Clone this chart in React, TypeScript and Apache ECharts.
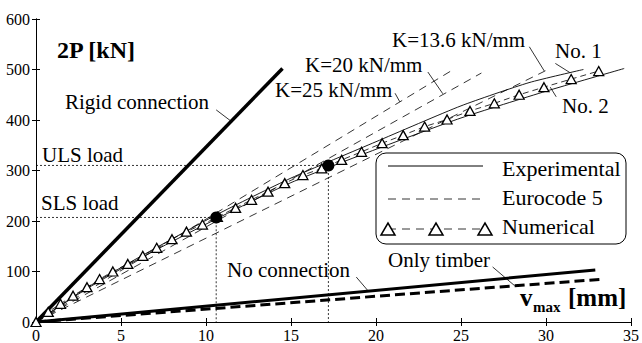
import React, { useEffect, useRef } from "react";
import * as echarts from "echarts";

// ---- data ----
const xTicks = [0, 5, 10, 15, 20, 25, 30, 35];
const yTicks = [0, 100, 200, 300, 400, 500, 600];

const rigid = [[0, 0], [14.5, 502]];
const noConnection = [[0, 0], [32.9, 103]];
const onlyTimber = [[0, 0], [33.4, 85]];

const ec5K25 = [[0, 0], [24.6, 501]];
const ec5K20 = [[0, 0], [26.2, 493]];
const ec5K136 = [[0, 0], [30.0, 498]];

const exp1 = [[0, 0], [3, 68], [6, 127], [10.6, 212], [15, 285], [20, 357], [25, 428], [29, 474], [32.2, 500]];
const exp2 = [[0, 0], [3, 66], [6, 124], [10.6, 204], [15, 276], [20, 342], [25, 404], [30, 457], [34.6, 502]];

const numX = [0, 0.72, 1.44, 2.18, 3.0, 3.74, 4.52, 5.4, 6.28, 7.1, 8.0, 8.85, 9.79, 10.67, 11.74, 12.68, 13.65, 14.63, 15.7, 16.81, 17.98, 19.15, 20.36, 21.6, 22.86, 24.18, 25.53, 26.96, 28.42, 29.88, 31.48, 33.1];
const numY = [0, 20, 36, 52, 69, 85, 100, 115, 131, 147, 164, 179, 193, 208, 226, 242, 258, 275, 291, 304, 321, 337, 354, 370, 387, 401, 418, 433, 450, 465, 481, 497];

const slsLoad = 207;
const slsV = 10.6;
const ulsLoad = 310;
const ulsV = 17.2;

const leaders = {
  rigid: [[10.6, 420], [11.5, 397]],
  k25: [[21.12, 453], [21.4, 436]],
  k20: [[23.05, 495], [23.93, 452]],
  k136: [[29.02, 545], [29.9, 497]],
  no1: [[30.55, 512], [31.4, 494]],
  no2: [[30.6, 446], [30.25, 465]],
  noConn: [[18.84, 89], [19.5, 63]],
  timber: [[26.86, 109], [28.15, 72]],
};

const FONT = "Liberation Serif";

export default function App() {
  const ref = useRef<HTMLDivElement>(null);
  useEffect(() => {
    if (!ref.current) return;
    const chart = echarts.init(ref.current, undefined, { renderer: "svg" });
    const lineS = (data: number[][], width: number, type: any = "solid", z = 2) => ({
      type: "line",
      data,
      symbol: "none",
      silent: true,
      z,
      lineStyle: { color: "#000", width, type },
    });
    const leaderSeries = Object.values(leaders).map((d) => lineS(d, 0.8));
    const txt = (text: string, x: number, baseline: number, size: number, bold = false) => ({
      type: "text",
      x,
      y: baseline - 0.34 * size,
      style: {
        text,
        fill: "#000",
        fontFamily: FONT,
        fontSize: size,
        fontWeight: bold ? "bold" : "normal",
        verticalAlign: "middle",
        align: "left",
      },
      z: 10,
    });
    const tri = (cx: number, cy: number) => ({
      type: "polygon",
      shape: { points: [[cx - 7, cy + 6], [cx + 7, cy + 6], [cx, cy - 6]] },
      style: { fill: "#fff", stroke: "#000", lineWidth: 1.5 },
      z: 12,
    });
    const axisCommon = {
      axisLine: { show: true, lineStyle: { color: "#000", width: 1 } },
      axisTick: { show: true, inside: true, length: 4, lineStyle: { color: "#000" } },
      splitLine: { show: false },
    };
    chart.setOption({
      animation: false,
      grid: { left: 36, right: 8, top: 19, bottom: 21, containLabel: false },
      xAxis: [
        {
          type: "value",
          min: xTicks[0],
          max: xTicks[xTicks.length - 1],
          interval: 5,
          ...axisCommon,
          axisLabel: { color: "#000", fontFamily: FONT, fontSize: 16, margin: 5 },
        },
        {
          type: "value",
          position: "top",
          min: xTicks[0],
          max: xTicks[xTicks.length - 1],
          interval: 5,
          ...axisCommon,
          axisLabel: { show: false },
        },
      ],
      yAxis: [
        {
          type: "value",
          min: yTicks[0],
          max: yTicks[yTicks.length - 1],
          interval: 100,
          ...axisCommon,
          axisLabel: { color: "#000", fontFamily: FONT, fontSize: 16, margin: 6 },
        },
        {
          type: "value",
          position: "right",
          min: yTicks[0],
          max: yTicks[yTicks.length - 1],
          interval: 100,
          ...axisCommon,
          axisLabel: { show: false },
        },
      ],
      series: [
        lineS([[0, ulsLoad], [ulsV, ulsLoad], [ulsV, 0]], 0.8, [2, 2]),
        lineS([[0, slsLoad], [slsV, slsLoad], [slsV, 0]], 0.8, [2, 2]),
        lineS(rigid, 3.5),
        lineS(noConnection, 3),
        lineS(onlyTimber, 3, [10, 5]),
        lineS(ec5K25, 0.8, [8, 6]),
        lineS(ec5K20, 0.8, [8, 6]),
        lineS(ec5K136, 0.8, [8, 6]),
        { ...lineS(exp1, 0.9), smooth: 0.2 },
        { ...lineS(exp2, 0.9), smooth: 0.2 },
        {
          type: "line",
          data: numX.map((x, i) => [x, numY[i]]),
          symbol: "triangle",
          symbolSize: [10, 9],
          showSymbol: true,
          silent: true,
          z: 4,
          lineStyle: { color: "#000", width: 0.8, type: [6, 4] },
          itemStyle: { color: "#fff", borderColor: "#000", borderWidth: 1.3 },
        },
        {
          type: "scatter",
          data: [[slsV, slsLoad], [ulsV, ulsLoad]],
          symbol: "circle",
          symbolSize: 12,
          silent: true,
          z: 6,
          itemStyle: { color: "#000", opacity: 1 },
        },
        ...leaderSeries,
      ],
      graphic: [
        txt("2P [kN]", 57, 58, 24, true),
        txt("Rigid connection", 65, 109, 21),
        txt("ULS load", 42, 162, 21),
        txt("SLS load", 41, 210, 21),
        txt("K=25 kN/mm", 275, 97, 21),
        txt("K=20 kN/mm", 305, 72, 21),
        txt("K=13.6 kN/mm", 392, 47, 21),
        txt("No. 1", 555, 58, 21),
        txt("No. 2", 562, 113, 21),
        txt("No connection", 227, 277, 21),
        txt("Only timber", 388, 267, 21),
        txt("v", 520, 306, 25, true),
        txt("max", 533, 312, 15, true),
        txt("[mm]", 568, 306, 25, true),
        {
          type: "rect",
          shape: { x: 376, y: 153, width: 250, height: 91, r: 10 },
          style: { fill: "#fff", stroke: "#000", lineWidth: 1 },
          z: 11,
        },
        {
          type: "line",
          shape: { x1: 388, y1: 166, x2: 483, y2: 166 },
          style: { stroke: "#000", lineWidth: 1 },
          z: 12,
        },
        {
          type: "line",
          shape: { x1: 388, y1: 199, x2: 483, y2: 199 },
          style: { stroke: "#000", lineWidth: 0.8, lineDash: [8, 6] },
          z: 12,
        },
        {
          type: "line",
          shape: { x1: 388, y1: 229, x2: 485, y2: 229 },
          style: { stroke: "#000", lineWidth: 0.8, lineDash: [8, 6] },
          z: 12,
        },
        tri(388, 229),
        tri(436, 229),
        tri(485, 229),
        { ...txt("Experimental", 502, 176, 22), z: 13 },
        { ...txt("Eurocode 5", 502, 205, 22), z: 13 },
        { ...txt("Numerical", 502, 234, 22), z: 13 },
      ],
    });
    return () => chart.dispose();
  }, []);
  return (
    <div
      ref={ref}
      style={{ position: "fixed", left: 0, top: 0, width: 642, height: 343, background: "#fff" }}
    />
  );
}
